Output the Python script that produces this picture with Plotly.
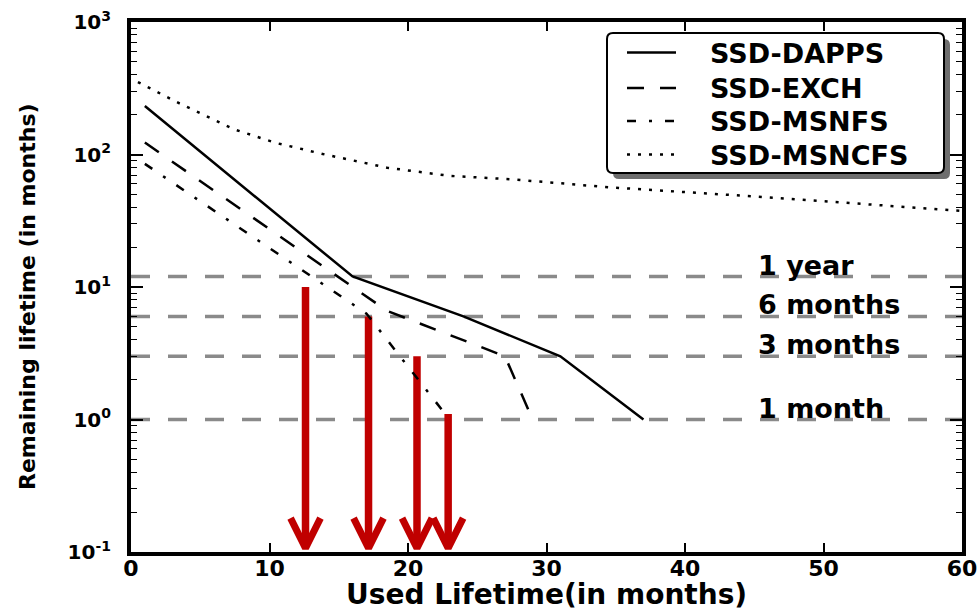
import math
import plotly.graph_objects as go

# ---------------- data ----------------
dapps_x = [1, 16, 24, 31, 37]
dapps_y = [232, 12, 6, 3, 1]

exch_x = [1, 18.5, 27, 29]
exch_y = [123, 6.6, 3, 1]

msnfs_x = [1, 17, 23]
msnfs_y = [85, 6.3, 1]

msncfs_x = [0.5, 3.5, 7.5, 10.5, 14, 18.5, 23, 27.5, 34.5, 46, 60]
msncfs_y = [352, 243, 154, 122, 100, 79.5, 69, 65, 56.6, 47.5, 37.5]

series_names = ["SSD-DAPPS", "SSD-EXCH", "SSD-MSNFS", "SSD-MSNCFS"]

threshold_values = [12, 6, 3, 1]
threshold_labels = ["1 year", "6 months", "3 months", "1 month"]

arrow_x = [12.6, 17.15, 20.65, 22.9]
arrow_top = [10, 6, 3, 1.1]

x_tick_vals = [0, 10, 20, 30, 40, 50, 60]
y_tick_vals = [0.1, 1, 10, 100, 1000]
y_tick_text = ["10<sup>-1</sup>", "10<sup>0</sup>", "10<sup>1</sup>",
               "10<sup>2</sup>", "10<sup>3</sup>"]

# ---------------- styling ----------------
FONT = "DejaVu Sans"
RED = "#c00000"
GRAY = "#8a8a8a"
DASHES = ["solid", "17px,16px", "9px,13px,3px,13px", "3px,8px"]
ARROW_TIP = 0.107      # where the arrow heads end (just above the x axis)
HEAD_TOP = 0.18        # height reached by the chevron arms
HEAD_HALF = 1.08       # half width of a chevron, in months
LABEL_X = 45.1         # left edge of the threshold labels

W, H = 980, 609
ML, MR, MT, MB = 131, 18, 22, 57
PW, PH = W - ML - MR, H - MT - MB


def px_x(p):
    return (p - ML) / PW


def px_y(p):
    return (MT + PH - p) / PH


def bold(size):
    return dict(family=FONT, size=size, color="black", weight="bold")


def rounded_rect(x0, y0, x1, y1, r):
    """Rounded rectangle path in paper coordinates from pixel corners."""
    rx, ry = r / PW, r / PH
    a, b, c, d = px_x(x0), px_y(y0), px_x(x1), px_y(y1)
    return (f"M{a + rx},{b} L{c - rx},{b} Q{c},{b} {c},{b - ry} "
            f"L{c},{d + ry} Q{c},{d} {c - rx},{d} L{a + rx},{d} "
            f"Q{a},{d} {a},{d + ry} L{a},{b - ry} Q{a},{b} {a + rx},{b} Z")


fig = go.Figure()

# threshold reference lines
for v in threshold_values:
    fig.add_trace(go.Scatter(
        x=[x_tick_vals[0], x_tick_vals[-1]], y=[v, v], mode="lines",
        line=dict(color=GRAY, width=3.5, dash="19px,18px"),
        showlegend=False, hoverinfo="skip"))

# red arrows: shaft plus chevron head
for xa, ya in zip(arrow_x, arrow_top):
    fig.add_trace(go.Scatter(
        x=[xa, xa], y=[ya, ARROW_TIP * 1.03], mode="lines",
        line=dict(color=RED, width=7.5), showlegend=False, hoverinfo="skip"))
    fig.add_trace(go.Scatter(
        x=[xa - HEAD_HALF, xa, xa + HEAD_HALF],
        y=[HEAD_TOP, ARROW_TIP, HEAD_TOP], mode="lines",
        line=dict(color=RED, width=7), showlegend=False, hoverinfo="skip"))

# lifetime curves
curves = [(dapps_x, dapps_y), (exch_x, exch_y),
          (msnfs_x, msnfs_y), (msncfs_x, msncfs_y)]
for name, (xs, ys), dash in zip(series_names, curves, DASHES):
    fig.add_trace(go.Scatter(
        x=xs, y=ys, mode="lines", name=name, showlegend=False,
        line=dict(color="black", width=2.5, dash=dash)))

# threshold labels
annotations = []
for v, t in zip(threshold_values, threshold_labels):
    annotations.append(dict(
        x=LABEL_X, y=math.log10(v), xref="x", yref="y", text=t,
        showarrow=False, xanchor="left", yanchor="bottom", yshift=-6,
        font=bold(27)))

# axis titles
annotations.append(dict(
    x=px_x(546.5), y=px_y(594), xref="paper", yref="paper",
    text="Used Lifetime(in months)", showarrow=False,
    xanchor="center", yanchor="middle", font=bold(28)))
annotations.append(dict(
    x=px_x(27), y=px_y(297), xref="paper", yref="paper",
    text="Remaining lifetime (in months)", showarrow=False, textangle=-90,
    xanchor="center", yanchor="middle", font=bold(22)))

# legend frame with drop shadow
shapes = [
    dict(type="path", xref="paper", yref="paper",
         path=rounded_rect(613, 39, 950, 179, 6),
         fillcolor="#6e6e6e", line=dict(width=0), layer="above"),
    dict(type="path", xref="paper", yref="paper",
         path=rounded_rect(607, 33, 944, 173, 6),
         fillcolor="white", line=dict(color="black", width=2), layer="above"),
]

# legend rows: line sample + series name
LEG_ROWS = [52.5, 88, 121, 154.5]
for name, dash, ry in zip(series_names, DASHES, LEG_ROWS):
    shapes.append(dict(
        type="line", xref="paper", yref="paper",
        x0=px_x(627), x1=px_x(676), y0=px_y(ry), y1=px_y(ry),
        line=dict(color="black", width=2.5, dash=dash), layer="above"))
    annotations.append(dict(
        x=px_x(708), y=px_y(ry + 1), xref="paper", yref="paper",
        text=name, showarrow=False, xanchor="left", yanchor="middle",
        font=bold(27)))

axis_common = dict(
    showline=True, linecolor="black", linewidth=4, mirror="ticks",
    ticks="inside", tickcolor="black", showgrid=False, zeroline=False,
    automargin=False,
)

fig.update_layout(
    template="none",
    width=W, height=H,
    margin=dict(l=ML, r=MR, t=MT, b=MB, autoexpand=False),
    paper_bgcolor="white", plot_bgcolor="white",
    showlegend=False,
    xaxis=dict(
        range=[0, 60], tickvals=x_tick_vals, ticklen=9, tickwidth=1.5,
        ticklabelstandoff=-6, tickfont=bold(22), **axis_common),
    yaxis=dict(
        type="log", range=[-1, 3], tickvals=y_tick_vals, ticktext=y_tick_text,
        ticklen=12, tickwidth=1.5, ticklabelstandoff=12, tickfont=bold(20),
        minor=dict(ticks="inside", ticklen=6, tickwidth=1, tickcolor="black",
                   dtick="D1", showgrid=False),
        **axis_common),
    annotations=annotations,
    shapes=shapes,
)

fig.write_html("out.html")
